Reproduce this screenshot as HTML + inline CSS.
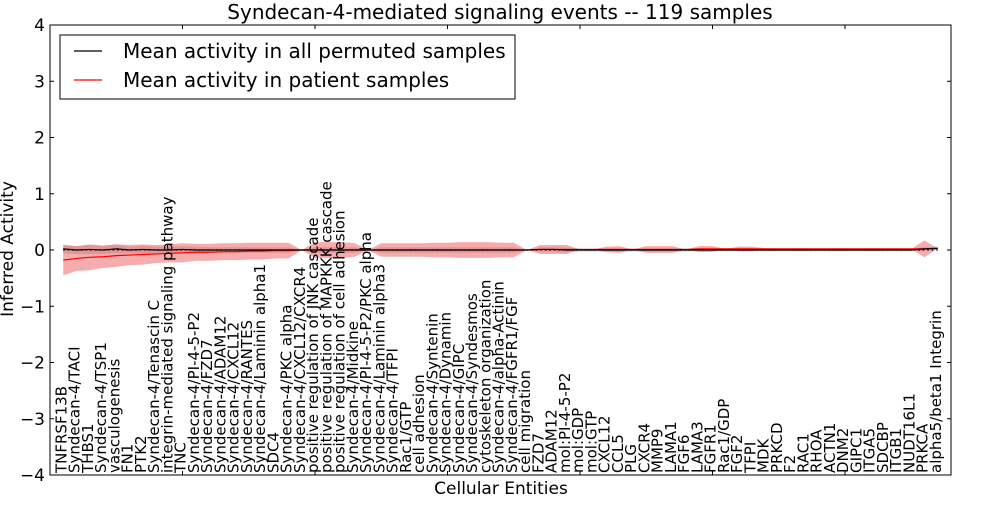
<!DOCTYPE html>
<html><head><meta charset="utf-8"><style>
body{margin:0;background:#fff;}
svg text{font-family:"DejaVu Sans","Liberation Sans",sans-serif;}
</style></head><body>
<svg id="chart" width="1000" height="500" xmlns="http://www.w3.org/2000/svg"></svg>
<script>
const categories=["TNFRSF13B","Syndecan-4/TACI","THBS1","Syndecan-4/TSP1","vasculogenesis","FN1","PTK2","Syndecan-4/Tenascin C","integrin-mediated signaling pathway","TNC","Syndecan-4/PI-4-5-P2","Syndecan-4/FZD7","Syndecan-4/ADAM12","Syndecan-4/CXCL12","Syndecan-4/RANTES","Syndecan-4/Laminin alpha1","SDC4","Syndecan-4/PKC alpha","Syndecan-4/CXCL12/CXCR4","positive regulation of JNK cascade","positive regulation of MAPKKK cascade","positive regulation of cell adhesion","Syndecan-4/Midkine","Syndecan-4/PI-4-5-P2/PKC alpha","Syndecan-4/Laminin alpha3","Syndecan-4/TFPI","Rac1/GTP","cell adhesion","Syndecan-4/Syntenin","Syndecan-4/Dynamin","Syndecan-4/GIPC","Syndecan-4/Syndesmos","cytoskeleton organization","Syndecan-4/alpha-Actinin","Syndecan-4/FGFR1/FGF","cell migration","FZD7","ADAM12","mol:PI-4-5-P2","mol:GDP","mol:GTP","CXCL12","CCL5","PLG","CXCR4","MMP9","LAMA1","FGF6","LAMA3","FGFR1","Rac1/GDP","FGF2","TFPI","MDK","PRKCD","F2","RAC1","RHOA","ACTN1","DNM2","GIPC1","ITGA5","SDCBP","ITGB1","NUDT16L1","PRKCA","alpha5/beta1 Integrin"];
const patientMean=[-0.18,-0.15,-0.13,-0.12,-0.1,-0.09,-0.08,-0.07,-0.06,-0.05,-0.04,-0.04,-0.03,-0.03,-0.02,-0.02,-0.01,-0.01,0,0,0,0,0,0,0,0,0,0,0,0,0,0,0,0,0,0,0.01,0.01,0.01,0.01,0.01,0.01,0.01,0.01,0.01,0.01,0.01,0.01,0.02,0.02,0.02,0.02,0.02,0.02,0.02,0.02,0.02,0.02,0.02,0.02,0.02,0.02,0.02,0.02,0.02,0.02,0.03];
const patientSpread=[0.27,0.22,0.23,0.2,0.2,0.18,0.18,0.16,0.16,0.17,0.15,0.15,0.15,0.15,0.15,0.15,0.14,0.14,0,0.14,0.14,0.14,0.12,0,0.12,0.12,0.12,0.12,0.13,0.13,0.14,0.14,0.14,0.13,0.13,0,0.08,0.08,0.08,0,0,0.05,0.06,0,0.06,0.06,0.06,0,0.05,0.05,0,0.04,0.04,0.01,0,0,0,0,0,0,0,0,0,0,0,0.15,0];
const permutedMean=[0.02,0.0,0.01,0.0,0.02,0.0,0.01,0.0,0.0,0.01,0.0,0.0,0.0,0.0,0.0,0.0,0.0,0.0,0,0,0,0,0,0,0,0,0,0,0,0,0,0,0,0,0,0,0.01,0.01,0.0,0,0,0,0,0,0,0,0,0,0,0,0,0,0,0,0,0,0,0,0,0,0,0,0,0,0,0.02,0.03];
const permutedSpread=[0.08,0.07,0.08,0.07,0.08,0.06,0.07,0.06,0.06,0.06,0.06,0.05,0.05,0.05,0.05,0.05,0.05,0.05,0,0.05,0.05,0.05,0.05,0,0.05,0.05,0.05,0.05,0.05,0.05,0.05,0.05,0.05,0.05,0.05,0,0.04,0.04,0.04,0.03,0.03,0.03,0.03,0.03,0.03,0.03,0.03,0.03,0.03,0.03,0.03,0.03,0.03,0.03,0.03,0.03,0.03,0.03,0.03,0.03,0.03,0.03,0.03,0.03,0.03,0.03,0.03];
const yTicks=[-4,-3,-2,-1,0,1,2,3,4];
const xTicks=[10,20,30,40,50,60];
const L=50,R=951,T=25,B=475,xMin=0,xMax=68,yMin=-4,yMax=4;
const X=i=>L+(i-xMin)/(xMax-xMin)*(R-L);
const Y=v=>B-(v-yMin)/(yMax-yMin)*(B-T);
const svg=document.getElementById('chart');
const NS='http://www.w3.org/2000/svg';
function mk(tag,attrs,parent){const e=document.createElementNS(NS,tag);for(const k in attrs)e.setAttribute(k,attrs[k]);(parent||svg).appendChild(e);return e;}
function band(mean,spread,fill,op,name){
  let up=mean.map((m,i)=>X(i+1)+','+Y(m+spread[i]));
  let dn=mean.map((m,i)=>X(i+1)+','+Y(m-spread[i])).reverse();
  const p=mk('polygon',{points:up.concat(dn).join(' '),fill:fill,'fill-opacity':op});
  
  
}
band(permutedMean,permutedSpread,'#bbbbbb',0.5,'permuted-band');
band(patientMean,patientSpread,'#e83030',0.4,'patient-band');
const dz=mk('polyline',{points:permutedMean.map((m,i)=>X(i+1)+','+Y(0)).join(' '),fill:'none',stroke:'#000','stroke-width':1.2,'stroke-dasharray':'1.5,3'});


const pl=mk('polyline',{points:patientMean.map((m,i)=>X(i+1)+','+Y(m)).join(' '),fill:'none',stroke:'#ff0000','stroke-width':1.2});


const bl=mk('polyline',{points:permutedMean.map((m,i)=>X(i+1)+','+Y(m)).join(' '),fill:'none',stroke:'#000','stroke-width':1.2});


const fr=mk('rect',{x:L,y:T,width:R-L,height:B-T,fill:'none',stroke:'#000','stroke-width':1});


yTicks.forEach(v=>{
  mk('line',{x1:L,x2:L+4,y1:Y(v),y2:Y(v),stroke:'#000'});
  mk('line',{x1:R,x2:R-4,y1:Y(v),y2:Y(v),stroke:'#000'});
  const t=mk('text',{x:L-5,y:Y(v)+6,'text-anchor':'end','font-size':17});
  t.textContent=(v<0?'\u2212':'')+Math.abs(v);
  
  
});
xTicks.forEach(v=>{
  mk('line',{x1:X(v),x2:X(v),y1:B,y2:B-4,stroke:'#000'});
  mk('line',{x1:X(v),x2:X(v),y1:T,y2:T+4,stroke:'#000'});
});
categories.forEach((c,i)=>{
  const x=X(i+1)+3,y=473;
  const t=mk('text',{x:x,y:y,transform:`rotate(-90 ${x} ${y})`,'font-size':15});
  t.textContent=c;
  
  
});
const title=mk('text',{x:500,y:19,'text-anchor':'middle','font-size':20});
title.textContent='Syndecan-4-mediated signaling events -- 119 samples';


const xt=mk('text',{x:501,y:494,'text-anchor':'middle','font-size':17});
xt.textContent='Cellular Entities';


const yt=mk('text',{x:13,y:249,'text-anchor':'middle','font-size':17,transform:'rotate(-90 13 249)'});
yt.textContent='Inferred Activity';


const lg=mk('g',{});


mk('rect',{x:60,y:35,width:455,height:64,fill:'#fff',stroke:'#000'},lg);
mk('line',{x1:74,x2:102,y1:51,y2:51,stroke:'#000','stroke-width':1.2},lg);
mk('line',{x1:74,x2:102,y1:80,y2:80,stroke:'#ff0000','stroke-width':1.2},lg);
const l1=mk('text',{x:123,y:58,'font-size':20},lg);l1.textContent='Mean activity in all permuted samples';


const l2=mk('text',{x:123,y:87,'font-size':20},lg);l2.textContent='Mean activity in patient samples';


</script>
</body></html>
